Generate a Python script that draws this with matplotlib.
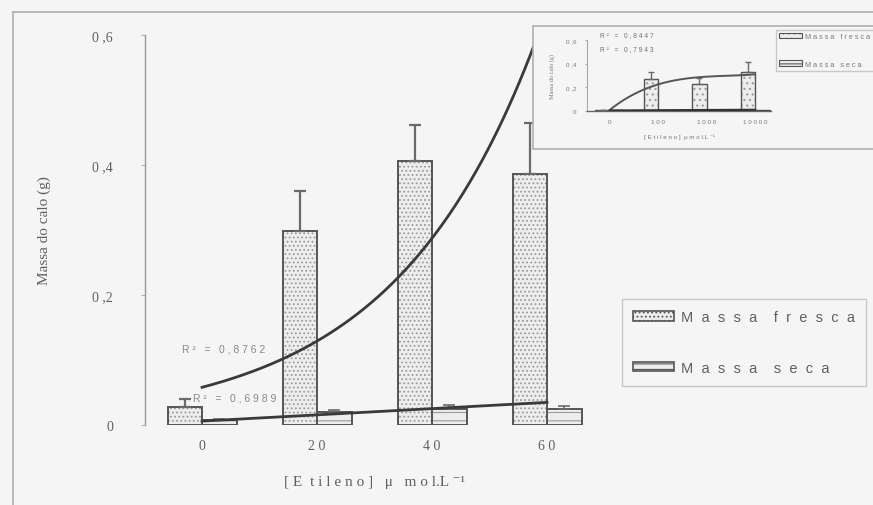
import numpy as np
import matplotlib

matplotlib.use("Agg")

import matplotlib.pyplot as plt
from matplotlib.lines import Line2D
from matplotlib.patches import Patch, Rectangle

# figure size in pixels (dpi 100)
W, H = 873, 506

BG = "#f5f5f5"
FRAME = "#b0b0b0"
EDGE = "#555555"
DOTS = "#9a9a9a"
TEXT = "#606060"
LINE = "#3a3a3a"
SERIF = ["Liberation Serif", "DejaVu Serif"]
SANS = ["Liberation Sans", "DejaVu Sans"]

# main chart: ethylene concentration (umol/L)
CONC = [0, 20, 40, 60]
CONC_LABELS = ["0", "2 0", "4 0", "6 0"]
FRESCA = [0.028, 0.298, 0.406, 0.386]
FRESCA_ERR = [0.012, 0.062, 0.055, 0.078]
SECA = [0.008, 0.020, 0.025, 0.025]
SECA_ERR = [0.002, 0.003, 0.006, 0.005]
Y_TICKS = [0, 0.2, 0.4, 0.6]
Y_LABELS = ["0", "0 ,2", "0 ,4", "0 ,6"]

# trendlines: exponential a*exp(b*x) for fresh mass, linear a + b*x for dry mass
FRESCA_EXP = (0.058, 0.040)
SECA_LIN = (0.006, 0.00048)
R2_FRESCA = "R² = 0,8762"
R2_SECA = "R² = 0,6989"

# inset chart: wider concentration range
INSET_LABELS = ["0", "1 0 0", "1 0 0 0", "1 0 0 0 0"]
INSET_FRESCA = [0.005, 0.27, 0.23, 0.33]
INSET_FRESCA_ERR = [0.0, 0.06, 0.05, 0.08]
INSET_SECA = [0.006, 0.012, 0.012, 0.012]
INSET_POLY = [0.0175, -0.1275, 0.325, 0.01]  # cubic in category index
INSET_SECA_LIN = (0.004, 0.002)
INSET_R2 = ["R² = 0,8447", "R² = 0,7943"]


def spaced(text, gap=1, word_gap=3):
    """Fake letter spacing by padding characters with blanks."""
    return (" " * word_gap).join((" " * gap).join(w) for w in text.split(" "))


def fig_box(x0, y0, x1, y1):
    """Pixel box (top-left origin) to a figure-fraction rect."""
    return [x0 / W, 1 - y1 / H, (x1 - x0) / W, (y1 - y0) / H]


def draw_bars(ax, pos, values, width, hatch, face="#ededed", dots=DOTS, lw=1.4):
    ax.bar(pos, values, width, color=face, edgecolor=dots, hatch=hatch,
           linewidth=0, zorder=2)
    ax.bar(pos, values, width, fill=False, edgecolor=EDGE, linewidth=lw, zorder=2.5)


plt.rcParams["hatch.linewidth"] = 0.8

fig = plt.figure(figsize=(W / 100, H / 100), dpi=100, facecolor=BG)

# outer frame (top and left edges)
fig.add_artist(Line2D([13 / W, 1], [1 - 13 / H] * 2, transform=fig.transFigure,
                      color=FRAME, lw=1.2))
fig.add_artist(Line2D([13 / W] * 2, [0, 1 - 13 / H], transform=fig.transFigure,
                      color=FRAME, lw=1.2))

# ---- main chart ----
ax = fig.add_axes(fig_box(145, 36, 604.5, 426), zorder=0)
ax.set_facecolor("none")
idx = np.arange(len(CONC))
bw = 0.3

draw_bars(ax, idx - bw / 2, FRESCA, bw, "....")
draw_bars(ax, idx + bw / 2, SECA, bw, "--")
ax.errorbar(idx - bw / 2, FRESCA, yerr=[np.zeros(4), FRESCA_ERR], fmt="none",
            ecolor="#6a6a6a", elinewidth=1.6, capsize=4.5, capthick=1.6, zorder=3)
ax.errorbar(idx + bw / 2, SECA, yerr=[np.zeros(4), SECA_ERR], fmt="none",
            ecolor="#6a6a6a", elinewidth=1.2, capsize=4.5, capthick=1.2, zorder=3)

conc_fine = np.linspace(CONC[0], CONC[-1], 200)
x_fine = conc_fine / (CONC[1] - CONC[0])
ax.plot(x_fine, FRESCA_EXP[0] * np.exp(FRESCA_EXP[1] * conc_fine), color=LINE,
        lw=2.0, zorder=4)
ax.plot(x_fine, SECA_LIN[0] + SECA_LIN[1] * conc_fine, color=LINE, lw=2.0, zorder=4)

ax.text(-0.174, 0.117, spaced(R2_FRESCA), fontsize=7.5, family=SANS, color="#888888",
        va="center", ha="left", zorder=5)
ax.text(-0.078, 0.043, spaced(R2_SECA), fontsize=7.5, family=SANS, color="#888888",
        va="center", ha="left", zorder=5)

ax.set_xlim(-0.496, 3.5)
ax.set_ylim(0, 0.6)
ax.set_xticks(idx)
ax.set_xticklabels(CONC_LABELS, family=SERIF, fontsize=10, color=TEXT)
ax.set_yticks(Y_TICKS)
ax.set_yticklabels(Y_LABELS, family=SERIF, fontsize=10, color=TEXT)
ax.tick_params(axis="x", length=0, pad=10)
ax.tick_params(axis="y", length=3, pad=20, color=FRAME)
for side in ["top", "right", "bottom"]:
    ax.spines[side].set_visible(False)
ax.spines["left"].set_color("#999999")
ax.spines["left"].set_linewidth(1.0)

ax.set_ylabel("Massa do calo (g)", family=SERIF, fontsize=11, color=TEXT)
ax.yaxis.set_label_coords(-0.205, 0.5)
ax.set_xlabel("[ E  t i l e n o ]   μ   m o l.L ⁻¹", family=SERIF, fontsize=11,
              color=TEXT)
ax.xaxis.set_label_coords(0.5, -0.128)

handles = [
    Patch(facecolor="#ededed", edgecolor=EDGE, hatch="....", lw=1.2),
    Patch(facecolor="#ededed", edgecolor=EDGE, hatch="---", lw=1.2),
]
leg = ax.legend(handles, [spaced("Massa fresca", 2, 4), spaced("Massa seca", 2, 4)],
                loc="upper left", bbox_to_anchor=(615 / W, 1 - 293 / H),
                bbox_transform=fig.transFigure, prop={"family": SANS, "size": 10.5},
                handlelength=2.8, handleheight=0.6, handletextpad=0.45,
                labelspacing=2.5, borderpad=0.75, fancybox=False,
                facecolor=BG, edgecolor="#c8c8c8", framealpha=1)
for t in leg.get_texts():
    t.set_color(TEXT)

# ---- inset chart ----
fig.add_artist(Rectangle((533 / W, 1 - 150 / H), 1, 123 / H, transform=fig.transFigure,
                         facecolor=BG, edgecolor=FRAME, lw=1.2, zorder=1))

ins = fig.add_axes(fig_box(587, 41, 771, 112), zorder=2)
ins.set_facecolor("none")
draw_bars(ins, idx - bw / 2, INSET_FRESCA, bw, "...", lw=1.0)
ins.bar(idx + bw / 2, INSET_SECA, bw, color="#555555", edgecolor="#444444",
        linewidth=1.0, zorder=2)
ins.errorbar(idx - bw / 2, INSET_FRESCA, yerr=[np.zeros(4), INSET_FRESCA_ERR],
             fmt="none", ecolor="#6a6a6a", elinewidth=1.0, capsize=2.5, capthick=1.0,
             zorder=3)
idx_fine = np.linspace(0, 3, 100)
ins.plot(idx_fine, np.polyval(INSET_POLY, idx_fine), color="#555555", lw=1.4, zorder=4)
ins.plot(idx_fine, INSET_SECA_LIN[0] + INSET_SECA_LIN[1] * idx_fine, color="#333333",
         lw=1.6, zorder=4)
for k, txt in enumerate(INSET_R2):
    ins.text(-0.21, 0.65 - 0.12 * k, spaced(txt), fontsize=4.8, family=SANS,
             color="#707070", va="center", ha="left", clip_on=False)

ins.set_xlim(-0.474, 3.33)
ins.set_ylim(0, 0.6)
ins.set_xticks(idx)
ins.set_xticklabels(INSET_LABELS, family=SANS, fontsize=4.5, color="#777777")
ins.set_yticks(Y_TICKS)
ins.set_yticklabels(Y_LABELS, family=SANS, fontsize=4.5, color="#777777")
ins.tick_params(axis="x", length=0, pad=6)
ins.tick_params(axis="y", length=1.5, pad=6, color=FRAME)
for side in ["top", "right"]:
    ins.spines[side].set_visible(False)
ins.spines["left"].set_color("#aaaaaa")
ins.spines["left"].set_linewidth(0.8)
ins.spines["bottom"].set_color("#666666")
ins.spines["bottom"].set_linewidth(1.0)
ins.set_ylabel("Massa do calo (g)", family=SERIF, fontsize=4.5, color="#777777")
ins.yaxis.set_label_coords(-0.174, 0.5)
ins.set_xlabel("[ E t i l e n o ]  μ m o l.L ⁻¹", family=SANS, fontsize=4.5,
               color="#777777")
ins.xaxis.set_label_coords(0.5, -0.31)

ins_handles = [
    Patch(facecolor="#ededed", edgecolor=EDGE, hatch="...", lw=0.8),
    Patch(facecolor="#ededed", edgecolor=EDGE, hatch="---", lw=0.8),
]
ins_leg = ins.legend(ins_handles, [spaced("Massa fresca"), spaced("Massa seca")],
                     loc="upper left", bbox_to_anchor=(772 / W, 1 - 27 / H),
                     bbox_transform=fig.transFigure, prop={"family": SANS, "size": 5.2},
                     handlelength=3.2, handleheight=0.7, handletextpad=0.4,
                     labelspacing=2.8, borderpad=0.5, fancybox=False,
                     facecolor=BG, edgecolor="#c8c8c8", framealpha=1)
for t in ins_leg.get_texts():
    t.set_color("#777777")

fig.savefig("out.png", dpi=100, facecolor=BG)
